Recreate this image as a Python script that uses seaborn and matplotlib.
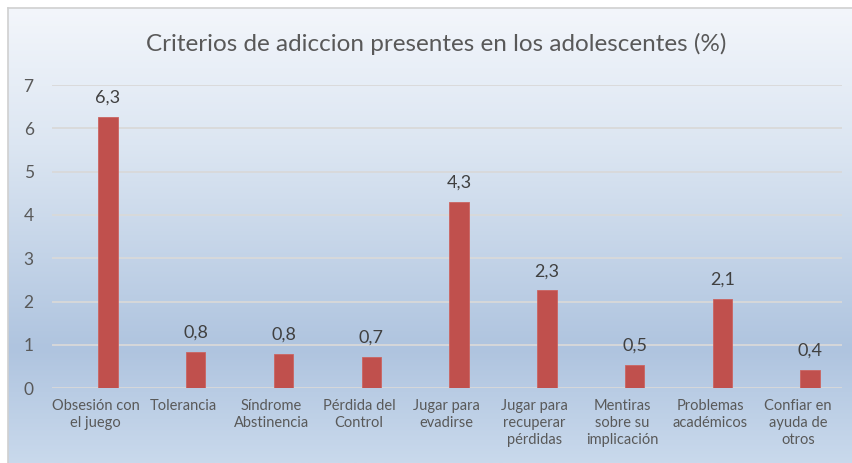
import numpy as np
import pandas as pd
import matplotlib
matplotlib.use("Agg")
import matplotlib.pyplot as plt
from matplotlib.colors import LinearSegmentedColormap
import seaborn as sns

# ---- data ----
categorias = [
    "Obsesión con\nel juego", "Tolerancia", "Síndrome\nAbstinencia",
    "Pérdida del\nControl", "Jugar para\nevadirse", "Jugar para\nrecuperar\npérdidas",
    "Mentiras\nsobre su\nimplicación", "Problemas\nacadémicos", "Confiar en\nayuda de\notros",
]
valores = [6.26, 0.84, 0.79, 0.72, 4.30, 2.26, 0.54, 2.06, 0.42]
titulo = "Criterios de adiccion presentes en los adolescentes (%)"
yticks = [0, 1, 2, 3, 4, 5, 6, 7]

sns.set_theme(style="white")
plt.rcParams["font.family"] = ["Lato", "DejaVu Sans"]

W, H = 853, 463
fig = plt.figure(figsize=(W / 100, H / 100), dpi=100, facecolor="white")

# background gradient panel (chart area)
bg = fig.add_axes([8 / W, 0, 1 - 8 / W, (H - 8) / H], zorder=0)
cmap = LinearSegmentedColormap.from_list(
    "bg", [(0.0, "#F3F6FB"), (0.30, "#DCE6F2"), (0.75, "#AFC4DF"), (1.0, "#C9D9EC")]
)
grad = np.linspace(0, 1, 256).reshape(-1, 1)
bg.imshow(grad, aspect="auto", cmap=cmap, extent=[0, 1, 0, 1], origin="upper")
bg.set_xlim(0, 1); bg.set_ylim(0, 1)
bg.set_xticks([]); bg.set_yticks([])
for s in ["right", "bottom"]:
    bg.spines[s].set_visible(False)
for s in ["left", "top"]:
    bg.spines[s].set_color("#D0D0D0")
    bg.spines[s].set_linewidth(1.2)

left, right = 51.7 / W, 841.7 / W
bottom, top = 1 - 388.3 / H, 1 - 85 / H
ax = fig.add_axes([left, bottom, right - left, top - bottom], zorder=1)
ax.set_facecolor("none")

df = pd.DataFrame({"categoria": categorias, "valor": valores, "serie": "Criterios"})
sns.barplot(
    data=df, x="categoria", y="valor", hue="serie",
    hue_order=["_vacia", "Criterios"], dodge=True,
    palette={"_vacia": "#FFFFFF", "Criterios": "#C0504D"},
    order=categorias, width=0.564, gap=0.213, legend=False,
    edgecolor="#CB6461", linewidth=0.6, saturation=1, ax=ax, zorder=3,
)

for cont in ax.containers:
    labels = [f"{v:.1f}".replace(".", ",") for v in cont.datavalues]
    ax.bar_label(cont, labels=labels, padding=8, fontsize=13, color="#404040")

ax.set_ylim(0, 7)
ax.set_yticks(yticks)
ax.set_yticklabels([str(t) for t in yticks])
ax.set_xlim(-0.5, len(categorias) - 0.5)
ax.yaxis.grid(True, color="#D9D9D9", linewidth=1.3, zorder=0)
ax.set_axisbelow(True)
for s in ax.spines.values():
    s.set_visible(False)
ax.set_xlabel("")
ax.set_ylabel("")
ax.tick_params(axis="y", length=0, pad=13, labelsize=12.5, labelcolor="#595959")
ax.tick_params(axis="x", length=0, pad=8, labelsize=10.5, labelcolor="#595959")
for lab in ax.get_xticklabels():
    lab.set_linespacing(1.25)

fig.text(436 / W, 1 - 44 / H, titulo, ha="center", va="center",
         fontsize=17.5, color="#595959")

fig.savefig("out.png", dpi=100, facecolor="white")
